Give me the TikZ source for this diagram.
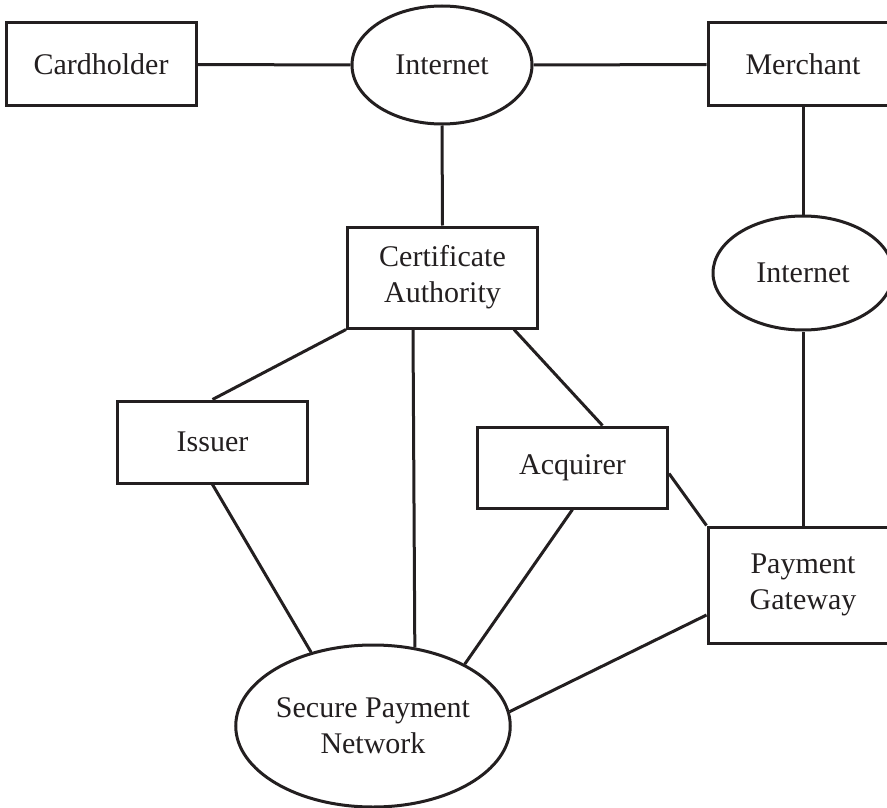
\documentclass[tikz,border=0pt]{standalone}
\usepackage{fontspec}
\setmainfont{Liberation Serif}
\usetikzlibrary{shapes.geometric}
\definecolor{ink}{RGB}{35,31,32}
\begin{document}
\begin{tikzpicture}[x=1pt, y=-1pt, line width=3pt, draw=ink,
  every node/.style={text=ink, font=\fontsize{30}{36}\selectfont, align=center, inner sep=0pt},
  box/.style={draw, rectangle, minimum width=190pt},
  cloud/.style={draw, ellipse}]
\useasboundingbox (0,0) rectangle (887,808);

% participants
\node[box, minimum height=83pt]  (card) at (101,64.5)   {Cardholder};
\node[box, minimum height=83pt]  (merch) at (803,64.5)  {Merchant};
\node[box, minimum height=101pt] (ca) at (442.5,277.5)  {Certificate\\Authority};
\node[box, minimum height=82pt]  (iss) at (212.5,442)   {Issuer};
\node[box, minimum height=81pt]  (acq) at (572.5,467.5) {Acquirer};
\node[box, minimum height=116pt] (pg) at (803,585)      {Payment\\Gateway};

% networks
\node[cloud, minimum width=180pt, minimum height=118pt] (net1) at (442,65)  {Internet};
\node[cloud, minimum width=180pt, minimum height=114pt] (net2) at (803,273) {Internet};
\node[cloud, minimum width=266pt, minimum height=162pt] (spn) at (373,726)  {Secure Payment\\Network};

% links
\draw (card.east) -- (net1.west);
\draw (net1.east) -- (merch.west);
\draw (net1.south) -- (ca.north);
\draw (merch.south) -- (net2.north);
\draw (net2.south) -- (pg.north);
\draw (ca.south west) -- (iss.north);
\draw ([xshift=-29.5pt]ca.south) -- (spn.62.6);
\draw ([xshift=-25pt]ca.south east) -- ([xshift=30pt]acq.north);
\draw (iss.south) -- (spn.130);
\draw (acq.south) -- (spn.34);
\draw ([yshift=-6pt]acq.east) -- (pg.north west);
\draw ([yshift=-30pt]pg.west) -- (spn.6);
\end{tikzpicture}
\end{document}
